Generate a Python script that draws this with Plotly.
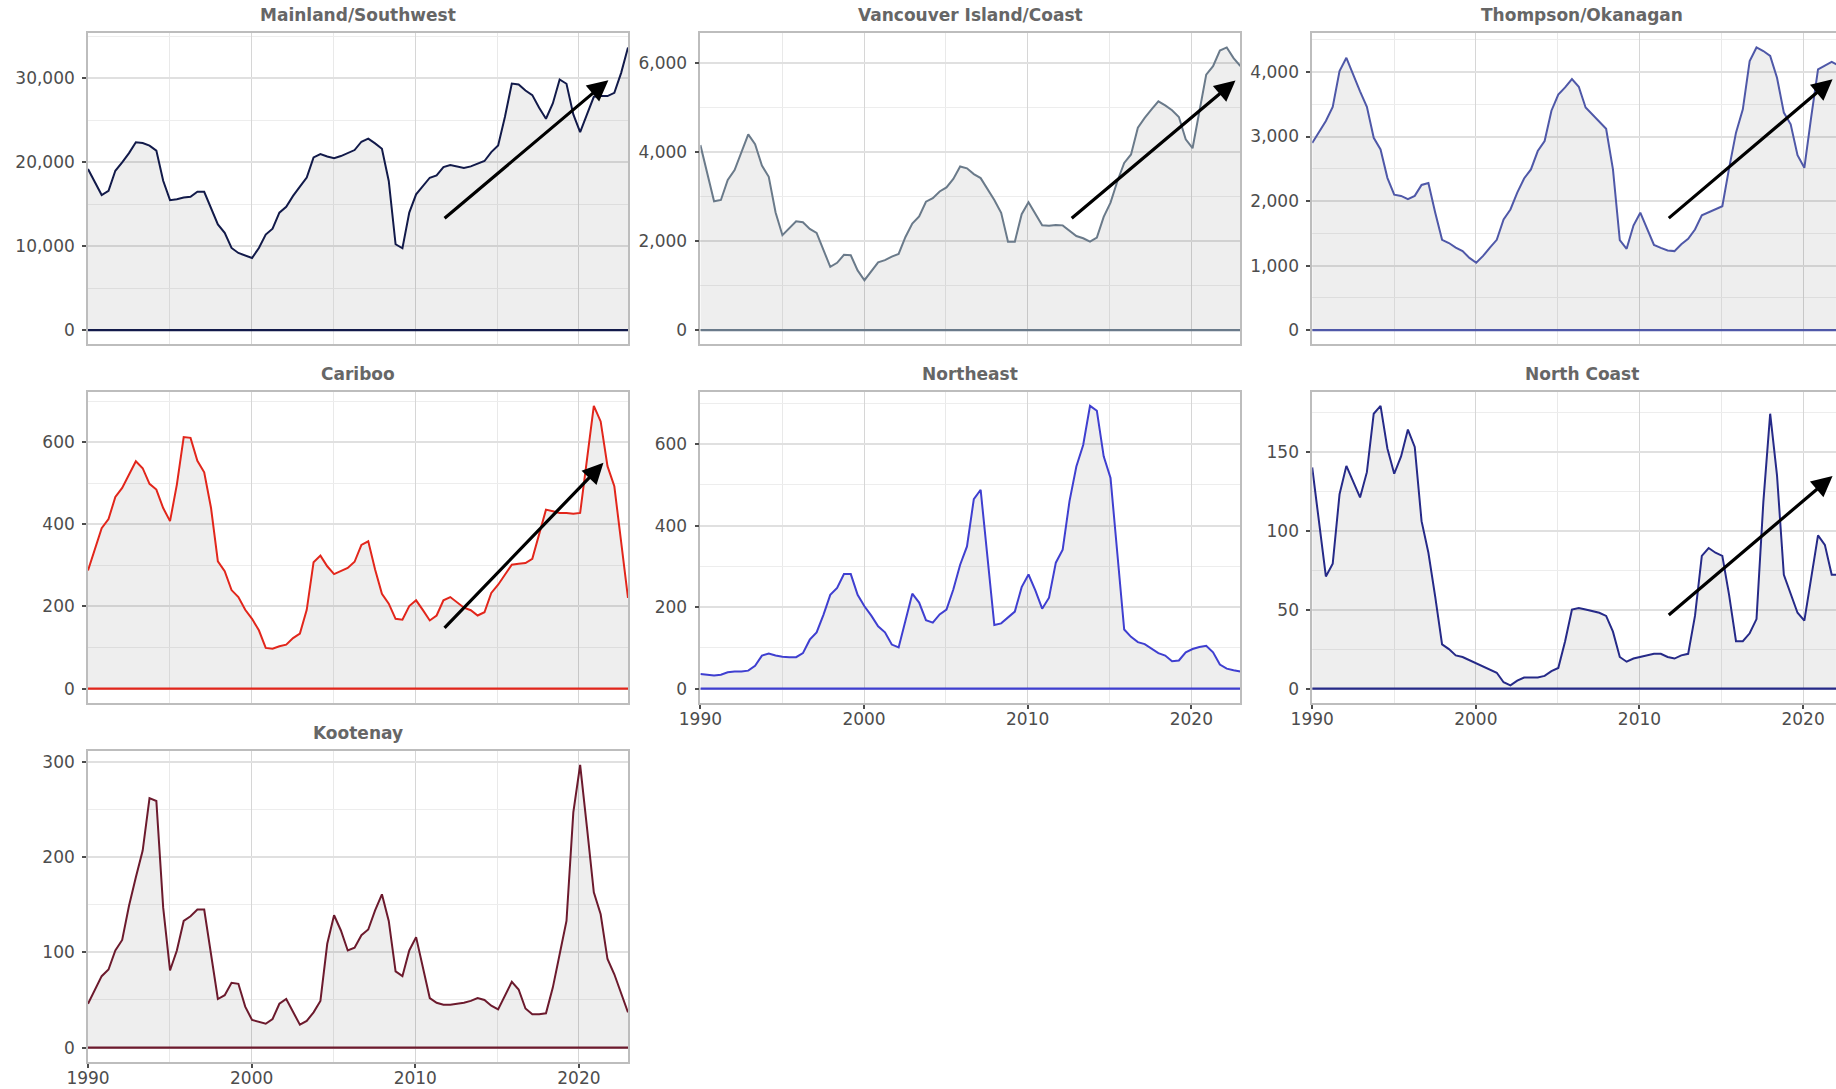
import plotly.graph_objects as go

W, H = 1836, 1089

# Observation index: 80 evenly spaced readings between 1990 and 2023
N_OBS = 80
FIRST_YEAR, LAST_YEAR = 1990, 2023
years = [FIRST_YEAR + (LAST_YEAR - FIRST_YEAR) * k / (N_OBS - 1) for k in range(N_OBS)]

mainland_southwest = [
    19200, 17700, 16100, 16600, 19000, 20000, 21100, 22400, 22300, 22000,
    21400, 17800, 15500, 15600, 15800, 15900, 16500, 16500, 14600, 12600,
    11600, 9800, 9200, 8900, 8600, 9800, 11400, 12100, 14000, 14700,
    16000, 17100, 18200, 20600, 21000, 20700, 20500, 20750, 21070, 21470,
    22460, 22820, 22260, 21630, 17780, 10240, 9760, 14010, 16190, 17180,
    18170, 18450, 19440, 19680, 19480, 19330, 19520, 19840, 20160, 21230,
    22020, 25440, 29400, 29290, 28570, 28020, 26510, 25200, 27020, 29880,
    29370, 25710, 23610, 25710, 27820, 27900, 27900, 28290, 30670, 33700,
]

vancouver_island_coast = [
    4150, 3520, 2890, 2920, 3370, 3590, 4000, 4390, 4170, 3690,
    3440, 2640, 2130, 2290, 2440, 2420, 2270, 2180, 1790, 1420,
    1510, 1690, 1680, 1340, 1120, 1320, 1520, 1570, 1650, 1710,
    2090, 2390, 2550, 2880, 2960, 3110, 3200, 3390, 3670, 3630,
    3500, 3410, 3170, 2920, 2630, 1985, 1985, 2600, 2870, 2620,
    2350, 2340, 2360, 2350, 2220, 2110, 2060, 1985, 2075, 2540,
    2860, 3340, 3750, 3940, 4540, 4760, 4950, 5130, 5040, 4930,
    4780, 4280, 4080, 4870, 5730, 5920, 6270, 6340, 6100, 5920,
]

thompson_okanagan = [
    2900, 3080, 3240, 3460, 4015, 4220, 3950, 3700, 3460, 2980,
    2800, 2360, 2100, 2080, 2030, 2080, 2250, 2280, 1820, 1400,
    1350, 1280, 1225, 1120, 1045, 1150, 1280, 1400, 1715, 1870,
    2130, 2350, 2490, 2775, 2930, 3400, 3650, 3760, 3890, 3770,
    3450, 3340, 3240, 3120, 2490, 1395, 1260, 1620, 1820, 1560,
    1320, 1275, 1235, 1225, 1330, 1415, 1560, 1780, 1830, 1880,
    1920, 2515, 3060, 3420, 4170, 4380, 4325, 4250, 3910, 3370,
    3190, 2710, 2515, 3300, 4040, 4100, 4155, 4100,
]

cariboo = [
    288, 339, 391, 413, 467, 489, 521, 554, 537, 499,
    485, 440, 408, 497, 613, 611, 555, 527, 440, 310,
    286, 240, 223, 192, 170, 142, 99, 97, 103, 107,
    123, 134, 192, 308, 324, 298, 279, 286, 294, 309,
    350, 359, 290, 231, 207, 170, 168, 201, 215, 191,
    166, 178, 215, 223, 210, 197, 191, 178, 186, 233,
    253, 278, 302, 304, 306, 316, 375, 436, 432, 428,
    428, 426, 428, 558, 689, 651, 542, 493, 357, 221,
]

northeast = [
    36, 34, 32, 34, 40, 42, 42, 44, 56, 81,
    86, 81, 78, 77, 77, 87, 120, 138, 181, 230,
    247, 281, 281, 230, 202, 179, 153, 138, 108, 101,
    165, 233, 211, 168, 162, 182, 194, 243, 304, 349,
    465, 488, 322, 156, 160, 174, 189, 249, 280, 241,
    196, 223, 309, 341, 460, 545, 598, 694, 682, 570,
    517, 331, 145, 127, 114, 109, 97, 87, 81, 67,
    69, 89, 97, 102, 105, 89, 59, 49, 45, 42,
]

north_coast = [
    140, 106, 71, 79, 123, 141, 131, 121, 137, 174,
    179, 152, 136, 147, 164, 153, 106, 86, 58, 28,
    25, 21, 20, 18, 16, 14, 12, 10, 4, 2,
    5, 7, 7, 7, 8, 11, 13, 30, 50, 51,
    50, 49, 48, 46, 36, 20, 17, 19, 20, 21,
    22, 22, 20, 19, 21, 22, 46, 84, 89, 86,
    84, 59, 30, 30, 35, 44, 118, 174, 135, 72,
    60, 48, 43, 71, 97, 91, 72, 72,
]

kootenay = [
    46, 60, 75, 82, 102, 113, 149, 179, 207, 262,
    259, 147, 81, 102, 133, 138, 145, 145, 98, 51,
    55, 68, 67, 43, 29, 27, 25, 30, 46, 51,
    37, 24, 28, 37, 49, 109, 139, 123, 102, 105,
    118, 124, 144, 161, 133, 80, 75, 102, 116, 84,
    52, 47, 45, 45, 46, 47, 49, 52, 50, 44,
    40, 54, 69, 61, 41, 35, 35, 36, 63, 98,
    133, 247, 297, 231, 163, 140, 93, 77, 56, 37,
]

region_names = ["Mainland/Southwest", "Vancouver Island/Coast", "Thompson/Okanagan",
                "Cariboo", "Northeast", "North Coast", "Kootenay"]
region_values = [mainland_southwest, vancouver_island_coast, thompson_okanagan,
                 cariboo, northeast, north_coast, kootenay]
y_tick_steps = [10000, 2000, 1000, 200, 200, 50, 100]
x_tick_years = [1990, 2000, 2010, 2020]

# Trend arrows: (start year, start value, end year, end value)
trend_arrows = {
    0: (2011.7, 13200, 2021.8, 29800),
    1: (2012.6, 2480, 2022.7, 5600),
    2: (2011.7, 1716, 2021.8, 3886),
    3: (2011.7, 144, 2021.5, 550),
    5: (2011.7, 45.8, 2021.8, 134.6),
}

line_colors = ["#121a4a", "#6a7a8a", "#4f58a8", "#e2261b", "#3f3fd0", "#262a88", "#6c1a2d"]

# facet grid placement (row, col) and which panels carry x labels
grid_pos = [(0, 0), (0, 1), (0, 2), (1, 0), (1, 1), (1, 2), (2, 0)]
labelled_x = {4, 5, 6}

col_left = [88.0, 700.4, 1312.2]
row_top = [33.3, 391.7, 750.7]
panel_w, panel_h = 540.0, 311.0
px_per_year = panel_w / (LAST_YEAR - FIRST_YEAR)

font_family = "DejaVu Sans"
tick_font = dict(family=font_family, size=17, color="#4d4d4d")
border_color = "#bdbdbd"

fig = go.Figure()
layout = dict(
    width=W, height=H,
    margin=dict(l=0, r=0, t=0, b=0, pad=0),
    paper_bgcolor="white", plot_bgcolor="white",
    showlegend=False,
    annotations=[],
)

for idx, (name, vals, color, step) in enumerate(zip(region_names, region_values, line_colors, y_tick_steps)):
    r, c = grid_pos[idx]
    n = idx + 1
    xa = "x" if n == 1 else f"x{n}"
    ya = "y" if n == 1 else f"y{n}"
    xkey = "xaxis" if n == 1 else f"xaxis{n}"
    ykey = "yaxis" if n == 1 else f"yaxis{n}"

    left = col_left[c]
    right = left + panel_w
    x_end = LAST_YEAR
    cut = right > W
    if cut:
        x_end = FIRST_YEAR + (W - left) / px_per_year
        right = W
    top = row_top[r]
    bottom = top + panel_h

    xs = years[:len(vals)]
    fig.add_trace(go.Scatter(
        x=xs, y=vals, xaxis=xa, yaxis=ya, mode="lines",
        line=dict(color=color, width=2),
        fill="tozeroy", fillcolor="rgba(0,0,0,0.065)",
        hoverinfo="skip",
    ))
    fig.add_trace(go.Scatter(
        x=[FIRST_YEAR, LAST_YEAR], y=[0, 0], xaxis=xa, yaxis=ya, mode="lines",
        line=dict(color=color, width=2.2), hoverinfo="skip",
    ))

    vmax = max(vals)
    show_x = idx in labelled_x
    layout[xkey] = dict(
        domain=[left / W, right / W], anchor=ya, automargin=False,
        range=[FIRST_YEAR, x_end],
        tickmode="array", tickvals=x_tick_years, ticktext=[str(v) for v in x_tick_years],
        showticklabels=show_x, ticks="outside" if show_x else "",
        ticklen=4, tickwidth=1.5, tickcolor="#4d4d4d", tickfont=tick_font,
        ticklabelstandoff=-4,
        showgrid=True, gridcolor="#d6d6d6", gridwidth=1.4,
        minor=dict(tickmode="array", tickvals=[1995, 2005, 2015], showgrid=True,
                   gridcolor="#e9e9e9", gridwidth=1.2),
        zeroline=False, showline=True, linecolor=border_color, linewidth=1.6,
        mirror=True, fixedrange=True,
    )
    layout[ykey] = dict(
        domain=[1 - bottom / H, 1 - top / H], anchor=xa, automargin=False,
        range=[-0.05 * vmax, 1.05 * vmax],
        tick0=0, dtick=step, tickformat=",d",
        ticks="outside", ticklen=4, tickwidth=1.5, tickcolor="#4d4d4d",
        tickfont=tick_font, ticklabelstandoff=4,
        showgrid=True, gridcolor="#e0e0e0", gridwidth=2.2,
        minor=dict(tick0=step / 2, dtick=step, showgrid=True,
                   gridcolor="#ededed", gridwidth=1.4),
        zeroline=False, showline=True, linecolor=border_color, linewidth=1.6,
        mirror=not cut, fixedrange=True,
    )

    # facet title
    layout["annotations"].append(dict(
        text=f"<b>{name}</b>", xref="paper", yref="paper",
        x=(left + panel_w / 2) / W, y=1 - (top - 18) / H,
        xanchor="center", yanchor="middle", showarrow=False,
        font=dict(family=font_family, size=17, color="#666666"),
    ))

    if idx in trend_arrows:
        x0, y0, x1, y1 = trend_arrows[idx]
        layout["annotations"].append(dict(
            x=x1, y=y1, ax=x0, ay=y0, xref=xa, yref=ya, axref=xa, ayref=ya,
            text="", showarrow=True, arrowhead=2, arrowsize=1.3, arrowwidth=3.2,
            arrowcolor="#000000", standoff=0, startstandoff=0,
        ))

fig.update_layout(**layout)
fig.write_html("out.html")
